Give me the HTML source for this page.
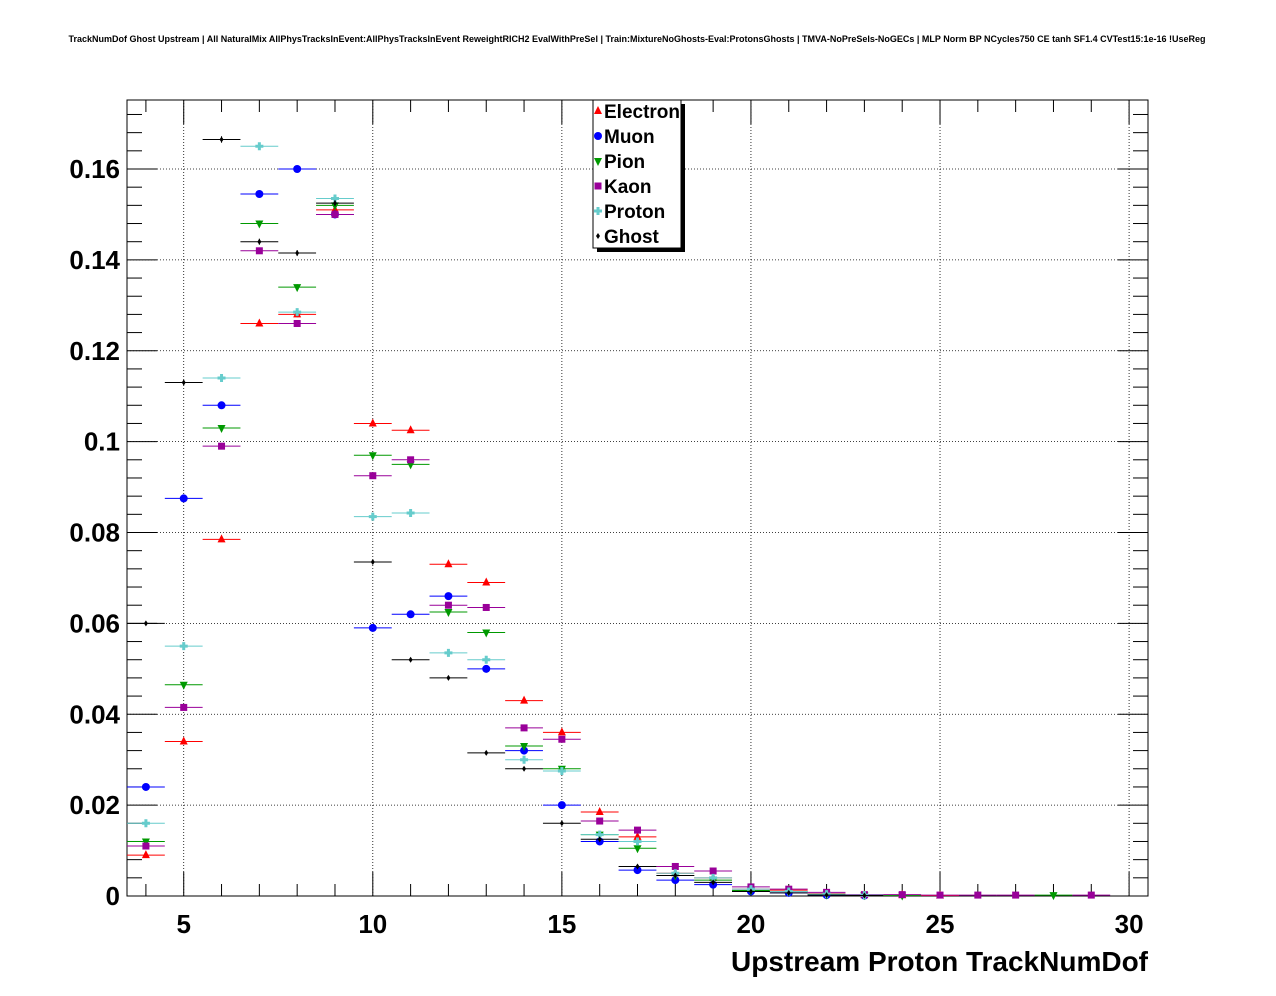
<!DOCTYPE html>
<html><head><meta charset="utf-8"><style>
body{margin:0;background:#fff}
svg{display:block;font-family:"Liberation Sans",sans-serif}
</style></head><body>
<svg id="s" width="1276" height="996" xmlns="http://www.w3.org/2000/svg">
<text x="637" y="42" font-size="9" font-weight="bold" text-anchor="middle">TrackNumDof Ghost Upstream | All NaturalMix AllPhysTracksInEvent:AllPhysTracksInEvent ReweightRICH2 EvalWithPreSel | Train:MixtureNoGhosts-Eval:ProtonsGhosts | TMVA-NoPreSels-NoGECs | MLP Norm BP NCycles750 CE tanh SF1.4 CVTest15:1e-16 !UseReg</text>
</svg>
<script>
const s=document.getElementById('s');const NS='http://www.w3.org/2000/svg';
function el(t,a,txt){const e=document.createElementNS(NS,t);for(const k in a)e.setAttribute(k,a[k]);if(txt!==undefined)e.textContent=txt;s.appendChild(e);return e;}
const L=127,R=1148,T=100,B=896;
const X=v=>L+(v-3.5)*(R-L)/27, Y=v=>B-v*(B-169)/0.16;
for(let v=5;v<=30;v+=5)el('line',{x1:X(v),x2:X(v),y1:T,y2:B,stroke:'#000','stroke-dasharray':'1,2','stroke-width':0.8});
for(let v=0.02;v<0.175;v+=0.02)el('line',{x1:L,x2:R,y1:Y(v),y2:Y(v),stroke:'#000','stroke-dasharray':'1,2','stroke-width':0.8});
el('rect',{x:L,y:T,width:R-L,height:B-T,fill:'none',stroke:'#000'});
for(let v=4;v<=30;v++){const m=v%5==0?24:12;el('line',{x1:X(v),x2:X(v),y1:B,y2:B-m,stroke:'#000'});el('line',{x1:X(v),x2:X(v),y1:T,y2:T+m,stroke:'#000'});}
for(let i=0;i<=43;i++){const v=i*0.004,m=i%5==0?30:15;el('line',{x1:L,x2:L+m,y1:Y(v),y2:Y(v),stroke:'#000'});el('line',{x1:R,x2:R-m,y1:Y(v),y2:Y(v),stroke:'#000'});}
for(let v=5;v<=30;v+=5)el('text',{x:X(v),y:933,'font-size':26,'font-weight':'bold','text-anchor':'middle'},v);
['0','0.02','0.04','0.06','0.08','0.1','0.12','0.14','0.16'].forEach((t,i)=>el('text',{x:120,y:Y(i*0.02)+9,'font-size':26,'font-weight':'bold','text-anchor':'end'},t));
el('text',{x:1148,y:971,'font-size':28,'font-weight':'bold','text-anchor':'end'},'Upstream Proton TrackNumDof');
const D={
Electron:['#ff0000','tri',[.009,.034,.0785,.126,.128,.151,.104,.1025,.073,.069,.043,.036,.0185,.013,.005,.004,.0015,.0013,.0005,.0002,.0002,.0001,0,0,0,0]],
Muon:['#0000ff','circ',[.024,.0875,.108,.1545,.160,.150,.059,.062,.066,.050,.032,.020,.012,.0057,.0035,.0025,.001,.0007,.0002,.0001,0,0,0,0,0,0]],
Pion:['#009900','dtri',[.012,.0465,.103,.148,.134,.152,.097,.095,.0625,.058,.033,.028,.0135,.0105,.0045,.0035,.0012,.001,.0003,.0002,.0001,0,0,0,.0002,0]],
Kaon:['#990099','sq',[.011,.0415,.099,.142,.126,.150,.0925,.096,.064,.0635,.037,.0345,.0165,.0145,.0065,.0055,.002,.0015,.0008,.0003,.0003,.0002,.0002,.0002,0,.0002]],
Proton:['#66cccc','cross',[.016,.055,.114,.165,.1285,.1535,.0835,.0843,.0535,.052,.030,.0275,.0135,.012,.005,.004,.0015,.001,.0004,.0002,0,0,0,0,0,0]],
Ghost:['#000000','dia',[.060,.113,.1665,.144,.1415,.1525,.0735,.052,.048,.0315,.028,.016,.0125,.0065,.0045,.003,.001,.0007,.0002,.0001,0,0,0,0,0,0]]};
function mk(sh,x,y,c){
 if(sh=='tri')el('path',{d:`M${x},${y-5}L${x+4},${y+3}L${x-4},${y+3}Z`,fill:c});
 else if(sh=='dtri')el('path',{d:`M${x},${y+5}L${x+4},${y-3}L${x-4},${y-3}Z`,fill:c});
 else if(sh=='circ')el('circle',{cx:x,cy:y,r:4,fill:c});
 else if(sh=='sq')el('rect',{x:x-3.5,y:y-3.5,width:7,height:7,fill:c});
 else if(sh=='cross')el('path',{d:`M${x-4},${y-1.5}h8v3h-8zM${x-1.5},${y-4}h3v8h-3z`,fill:c});
 else el('path',{d:`M${x},${y-3}L${x+2},${y}L${x},${y+3}L${x-2},${y}Z`,fill:c});
}
for(const k in D){const [c,sh,v]=D[k];v.forEach((val,i)=>{const n=i+4;if(val<=0&&n>23)return;const x=X(n),y=Y(val);
 el('line',{x1:X(n-0.5),x2:X(n+0.5),y1:y,y2:y,stroke:c});
 if(val>0.003){const e=Math.sqrt(val)*8;el('line',{x1:x,x2:x,y1:y-e,y2:y+e,stroke:c});}
 mk(sh,x,y,c);});}
el('rect',{x:597,y:104,width:88,height:148,fill:'#000'});
el('rect',{x:593,y:100,width:88,height:148,fill:'#fff',stroke:'#000'});
Object.keys(D).forEach((k,i)=>{const y=111+i*25;mk(D[k][1],598,y,D[k][0]);el('text',{x:604,y:y+7,'font-size':19,'font-weight':'bold'},k);});
</script>
</body></html>
